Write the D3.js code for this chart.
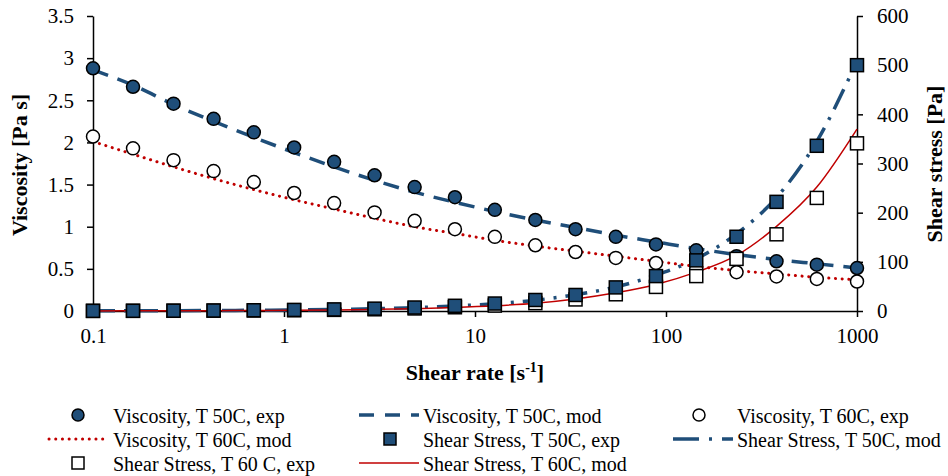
<!DOCTYPE html>
<html>
  <head>
    <meta charset="utf-8">
    <title>Viscosity and shear stress</title>
    <script src="https://d3js.org/d3.v7.min.js"></script>
    <style>
      body { margin: 0; background: #fff; }
      svg text { font-family: "Liberation Serif", "Times New Roman", serif; fill: #000; }
    </style>
  </head>
  <body>

    <script>

      // shear rate [1/s], the same for all series
      var shearRate = [0.1, 0.162, 0.264, 0.428, 0.695, 1.13, 1.83, 2.98, 4.83, 7.85,
                       12.7, 20.7, 33.6, 54.6, 88.6, 144, 234, 379, 616, 1000];

      // viscosity [Pa s]
      var visc50Exp = [2.88, 2.66, 2.46, 2.28, 2.12, 1.94, 1.77, 1.61, 1.47, 1.35,
                       1.20, 1.08, 0.97, 0.88, 0.79, 0.72, 0.65, 0.59, 0.55, 0.51];
      var visc50Mod = [2.86, 2.68, 2.45, 2.25, 2.06, 1.88, 1.71, 1.55, 1.41, 1.29,
                       1.18, 1.08, 0.99, 0.90, 0.82, 0.74, 0.67, 0.61, 0.56, 0.51];
      var visc60Exp = [2.07, 1.93, 1.79, 1.66, 1.53, 1.40, 1.28, 1.17, 1.07, 0.97,
                       0.88, 0.78, 0.70, 0.63, 0.57, 0.50, 0.46, 0.41, 0.38, 0.35];
      var visc60Mod = [2.01, 1.86, 1.71, 1.57, 1.44, 1.32, 1.21, 1.10, 1.00, 0.92,
                       0.84, 0.77, 0.71, 0.65, 0.59, 0.53, 0.48, 0.44, 0.40, 0.37];

      // shear stress [Pa]
      var stress50Exp = [0.29, 0.43, 0.65, 0.98, 1.5, 2.2, 3.2, 4.8, 7.1, 10.6,
                         15.2, 22.4, 32.6, 48, 71, 103, 151, 222, 336, 500];
      var stress50Mod = [0.29, 0.44, 0.65, 0.96, 1.43, 2.1, 3.1, 4.6, 6.8, 10.1,
                         15, 22, 33, 49, 73, 106, 157, 231, 345, 508];
      var stress60Exp = [0.21, 0.31, 0.47, 0.71, 1.06, 1.6, 2.3, 3.5, 5.2, 7.6,
                         11, 16, 23.5, 34, 49, 71, 106, 156, 230, 341];
      var stress60Mod = [0.2, 0.3, 0.45, 0.67, 1.0, 1.5, 2.2, 3.3, 4.8, 7.2,
                         10.7, 15.9, 24.5, 37, 54, 79, 113, 172, 252, 370];

      var xTicks = [0.1, 1, 10, 100, 1000];
      var xTickLabels = ["0.1", "1", "10", "100", "1000"];
      var yLeftTicks = [0, 0.5, 1, 1.5, 2, 2.5, 3, 3.5];
      var yRightTicks = [0, 100, 200, 300, 400, 500, 600];

      var legendNames = ["Viscosity, T 50C, exp", "Viscosity, T 50C, mod", "Viscosity, T 60C, exp",
                         "Viscosity, T 60C, mod", "Shear Stress, T 50C, exp", "Shear Stress, T 50C, mod",
                         "Shear Stress, T 60 C, exp", "Shear Stress, T 60C, mod"];

      var blue = "#1f4e79", red = "#c00000";
      var serif = "'Liberation Serif', 'Times New Roman', serif";

      var svg = d3.select("body").append("svg")
        .attr("width", 948)
        .attr("height", 476);

      var x = d3.scaleLog().domain([0.1, 1000]).range([93, 857]);
      var yL = d3.scaleLinear().domain([0, 3.5]).range([311, 16]);
      var yR = d3.scaleLinear().domain([0, 600]).range([311, 16]);

      // axes
      function styleAxis(g) {
        g.attr("font-family", null).attr("font-size", null);
        g.selectAll("path, line").attr("stroke", "#000").attr("stroke-width", 1.5);
        g.selectAll("text").attr("fill", "#000")
          .style("font-family", serif).style("font-size", "21px");
      }

      var gx = svg.append("g").attr("transform", "translate(0,311)")
        .call(d3.axisBottom(x).tickValues(xTicks)
          .tickFormat(function(d, i) { return xTickLabels[i]; })
          .tickSize(6).tickSizeOuter(0).tickPadding(11));
      styleAxis(gx);

      var gl = svg.append("g").attr("transform", "translate(93,0)")
        .call(d3.axisLeft(yL).tickValues(yLeftTicks).tickFormat(d3.format("~g"))
          .tickSize(6).tickSizeOuter(0).tickPadding(13));
      styleAxis(gl);

      var gr = svg.append("g").attr("transform", "translate(857,0)")
        .call(d3.axisRight(yR).tickValues(yRightTicks)
          .tickSize(6).tickSizeOuter(0).tickPadding(14));
      styleAxis(gr);

      // axis titles
      svg.append("text")
        .attr("transform", "translate(27,165) rotate(-90)")
        .attr("text-anchor", "middle").attr("font-size", 22).attr("font-weight", "bold")
        .text("Viscosity [Pa s]");

      svg.append("text")
        .attr("transform", "translate(942,164) rotate(-90)")
        .attr("text-anchor", "middle").attr("font-size", 22).attr("font-weight", "bold")
        .text("Shear stress [Pa]");

      var xt = svg.append("text")
        .attr("x", 475).attr("y", 380)
        .attr("text-anchor", "middle").attr("font-size", 22).attr("font-weight", "bold");
      xt.append("tspan").text("Shear rate [s");
      xt.append("tspan").attr("font-size", 14).attr("dy", -8).text("-1");
      xt.append("tspan").attr("dy", 8).text("]");

      // series
      var series = [
        {vals: visc50Mod, y: yL, type: "line", color: blue, width: 3.5, dash: "16,10"},
        {vals: visc60Mod, y: yL, type: "line", color: red, width: 3, dash: "0.1,6.6", cap: "round"},
        {vals: stress50Mod, y: yR, type: "line", color: blue, width: 3.5, dash: "22,9,3,9"},
        {vals: stress60Mod, y: yR, type: "line", color: red, width: 1.5, dash: null},
        {vals: visc50Exp, y: yL, type: "circle", fill: blue},
        {vals: visc60Exp, y: yL, type: "circle", fill: "#fff"},
        {vals: stress60Exp, y: yR, type: "square", fill: "#fff"},
        {vals: stress50Exp, y: yR, type: "square", fill: blue}
      ];

      series.forEach(function(s) {
        var pts = shearRate.map(function(r, i) { return [r, s.vals[i]]; });
        if (s.type === "line") {
          var line = d3.line()
            .x(function(d) { return x(d[0]); })
            .y(function(d) { return s.y(d[1]); })
            .curve(d3.curveMonotoneX);
          svg.append("path").datum(pts)
            .attr("d", line)
            .attr("fill", "none")
            .attr("stroke", s.color)
            .attr("stroke-width", s.width)
            .attr("stroke-dasharray", s.dash)
            .attr("stroke-linecap", s.cap || "butt");
        } else if (s.type === "circle") {
          svg.append("g").selectAll("circle").data(pts).enter().append("circle")
            .attr("cx", function(d) { return x(d[0]); })
            .attr("cy", function(d) { return s.y(d[1]); })
            .attr("r", 6.5)
            .attr("fill", s.fill).attr("stroke", "#000").attr("stroke-width", 1.5);
        } else {
          svg.append("g").selectAll("rect").data(pts).enter().append("rect")
            .attr("x", function(d) { return x(d[0]) - 6.5; })
            .attr("y", function(d) { return s.y(d[1]) - 6.5; })
            .attr("width", 13).attr("height", 13)
            .attr("fill", s.fill).attr("stroke", "#000").attr("stroke-width", 1.5);
        }
      });

      // legend, 3 columns
      var colSym = [78, 390, 702];
      var colText = [113, 423, 737];
      var rowY = [415, 439, 463];
      var legendSym = [
        {type: "circle", fill: blue},
        {type: "line", color: blue, width: 3.5, dash: "15,11"},
        {type: "circle", fill: "#fff", small: true},
        {type: "line", color: red, width: 3, dash: "0.1,6.6", cap: "round"},
        {type: "square", fill: blue},
        {type: "line", color: blue, width: 3.5, dash: "26,10,3,10"},
        {type: "square", fill: "#fff"},
        {type: "line", color: red, width: 1.5, dash: null}
      ];

      var leg = svg.append("g");
      legendNames.forEach(function(name, i) {
        var c = i % 3, r = Math.floor(i / 3);
        var cx = colSym[c], cy = rowY[r], sym = legendSym[i];
        if (sym.type === "line") {
          leg.append("line")
            .attr("x1", colText[c] - 64).attr("x2", colText[c] - 4)
            .attr("y1", cy).attr("y2", cy)
            .attr("stroke", sym.color).attr("stroke-width", sym.width)
            .attr("stroke-dasharray", sym.dash)
            .attr("stroke-linecap", sym.cap || "butt");
        } else if (sym.type === "circle") {
          leg.append("circle").attr("cx", sym.small ? cx - 3 : cx).attr("cy", cy).attr("r", 6)
            .attr("fill", sym.fill).attr("stroke", "#000").attr("stroke-width", 1.5);
        } else {
          leg.append("rect").attr("x", cx - 6).attr("y", cy - 6).attr("width", 12).attr("height", 12)
            .attr("fill", sym.fill).attr("stroke", "#000").attr("stroke-width", 1.5);
        }
        leg.append("text")
          .attr("x", colText[c]).attr("y", cy + 7.5)
          .attr("font-size", 20)
          .text(name);
      });

    </script>

  </body>
</html>
